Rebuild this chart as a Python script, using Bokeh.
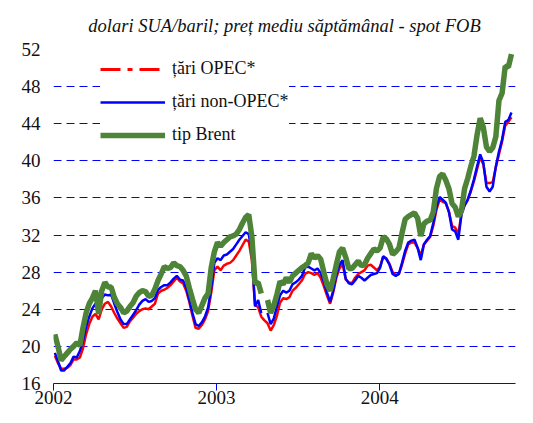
import numpy as np
import pandas as pd
from bokeh.plotting import figure
from bokeh.models import FixedTicker, DatetimeTickFormatter, Legend, LegendItem, Range1d
from bokeh.embed import file_html
from bokeh.resources import INLINE

nan = float("nan")

# weekly dates (Fridays)
week_start = "2002-01-04"
n_weeks = 147

brent = [21.3, 20.0, 18.5, 18.9, 19.3, 19.7, 20.0, 20.4, 20.1, 22.0,
         23.6, 24.6, 25.2, 26.0, 23.5, 26.0, 26.9, 26.4, 26.4, 25.3,
         24.6, 24.2, 23.6, 23.8, 24.3, 24.7, 25.4, 25.8, 26.0, 25.9,
         25.4, 25.5, 26.2, 27.1, 27.8, 28.6, 28.4, 28.5, 29.0, 28.7,
         28.6, 28.2, 27.6, 26.3, 25.1, 24.0, 23.6, 24.4, 25.2, 25.7,
         28.5, 30.2, 31.2, 30.8, 31.2, 31.5, 31.8, 31.9, 32.1, 32.6,
         33.3, 33.9, 34.2, 31.8, 26.8, 26.9, 25.7, nan, 25.0, 23.6,
         24.4, 25.6, 27.0, 26.7, 27.4, 26.9, 27.6, 27.9, 28.2, 28.5,
         28.7, 29.0, 30.0, 29.5, 29.8, 29.4, 28.0, 26.7, 26.0, 27.3,
         28.8, 30.2, 30.6, 29.6, 28.4, 28.4, 28.8, 29.2, 28.7, 28.8,
         29.5, 30.0, 30.5, 30.3, 30.6, 31.8, 31.6, 31.0, 29.9, 30.2,
         30.6, 32.2, 33.7, 34.0, 34.2, 34.4, 33.8, 31.9, 33.2, 33.5,
         33.6, 34.5, 37.0, 38.3, 38.6, 37.9, 37.0, 35.4, 35.0, 34.0,
         34.6, 37.0, 38.1, 39.4, 40.5, 42.8, 44.6, 43.6, 41.5, 41.0,
         41.4, 42.6, 46.5, 47.3, 50.2, 50.1, 51.5]

non_opec = [19.3, 18.4, 17.4, 17.4, 17.8, 18.2, 18.9, 18.8, 19.5, 20.6,
            22.1, 23.2, 24.1, 24.6, 24.0, 25.2, 25.6, 25.5, 25.6, 24.6,
            23.7, 22.9, 22.4, 22.4, 22.9, 23.4, 23.9, 24.5, 24.9, 25.1,
            24.8, 24.9, 25.2, 26.1, 26.4, 26.6, 26.6, 26.9, 27.3, 27.6,
            27.2, 27.1, 26.3, 25.0, 23.6, 22.4, 22.2, 22.6, 23.2, 24.2,
            26.3, 29.0, 29.5, 29.3, 29.8, 29.9, 30.2, 30.5, 31.0, 31.5,
            31.9, 32.3, 32.1, 30.0, 24.3, 25.0, 23.6, nan, 23.6, 22.4,
            23.0, 24.3, 25.5, 26.0, 25.8, 26.0, 26.7, 26.9, 27.2, 27.6,
            28.5, 28.6, 28.4, 28.2, 28.4, 27.9, 27.0, 25.8, 24.8, 26.0,
            27.7, 28.8, 29.3, 27.3, 26.8, 26.7, 27.1, 27.6, 27.4, 27.1,
            27.4, 27.7, 27.8, 27.9, 28.5, 29.7, 29.4, 28.8, 27.8, 27.6,
            27.8, 29.0, 30.3, 31.2, 31.4, 31.5, 30.6, 29.3, 31.0, 31.5,
            31.9, 33.3, 35.0, 36.1, 35.8, 35.5, 34.5, 32.6, 32.4, 31.5,
            34.2, 35.2, 35.8, 36.8, 38.0, 39.4, 40.7, 39.8, 37.2, 36.7,
            37.2, 39.4, 41.0, 42.3, 44.2, 44.4, 45.2]

opec = [19.0, 18.2, 17.6, 17.6, 17.7, 18.0, 18.6, 18.6, 18.8, 19.8,
        21.3, 22.4, 23.2, 23.5, 22.9, 24.0, 24.6, 24.8, 24.3, 23.6,
        23.0, 22.5, 22.0, 22.1, 22.7, 23.1, 23.5, 23.8, 24.0, 24.1,
        24.0, 24.3, 24.6, 25.7, 26.0, 26.1, 26.3, 26.6, 27.0, 27.4,
        27.0, 26.8, 26.0, 24.8, 23.3, 22.0, 21.9, 22.3, 22.9, 23.8,
        25.8, 28.2, 28.6, 28.2, 28.7, 28.9, 29.0, 29.3, 29.8, 30.3,
        30.9, 31.5, 31.3, 29.3, 24.5, 24.2, 23.2, 22.8, 22.5, 21.7,
        22.3, 23.3, 24.7, 25.2, 25.1, 25.3, 26.0, 26.3, 26.7, 27.1,
        27.8, 28.0, 27.9, 27.7, 27.9, 27.4, 26.5, 25.5, 24.6, 25.8,
        27.4, 28.4, 28.9, 27.2, 26.9, 26.8, 27.4, 27.8, 28.0, 28.2,
        28.7, 28.8, 28.5, 28.2, 28.6, 29.7, 29.5, 28.9, 28.0, 27.7,
        27.8, 28.8, 30.0, 31.0, 31.2, 31.2, 30.6, 29.8, 31.0, 31.4,
        31.8, 33.0, 34.7, 35.8, 35.6, 35.4, 34.5, 33.0, 32.8, 32.1,
        34.3, 35.2, 35.8, 36.7, 37.8, 39.1, 40.4, 39.6, 37.6, 37.6,
        37.7, 39.3, 40.7, 42.1, 43.8, 44.2, 44.7]

y_ticks = [16, 20, 24, 28, 32, 36, 40, 44, 48, 52]
x_tick_years = ["2002-01-01", "2003-01-01", "2004-01-01"]
labels = ["țări OPEC*", "țări non-OPEC*", "tip Brent"]
title_text = "dolari SUA/baril; preț mediu săptămânal - spot FOB"

dates = pd.date_range(week_start, periods=n_weeks, freq="7D")

FONT = "Liberation Serif"

p = figure(width=517, height=407, x_axis_type="datetime",
           output_backend="svg", toolbar_location=None,
           x_range=Range1d(pd.Timestamp("2002-01-01"), pd.Timestamp("2004-10-31")),
           y_range=Range1d(16, 52),
           min_border_left=53, min_border_right=2,
           min_border_top=45, min_border_bottom=24)

p.title.text = title_text
p.title.text_font = FONT
p.title.text_font_style = "italic"
p.title.text_font_size = "18.5px"
p.title.text_color = "#111111"
p.title.align = "center"
p.title.standoff = 27

p.outline_line_color = None
p.background_fill_color = "white"

r_opec = p.line(dates, opec, line_color="#FF0000", line_width=2.5)
r_non = p.line(dates, non_opec, line_color="#0000FF", line_width=2.5)
r_brent = p.line(dates, brent, line_color="#4E8438", line_width=5.5)
# legend-only glyph for the dash-dot key
r_opec_key = p.line([pd.Timestamp("2003-01-01")], [nan], line_color="#FF0000",
                    line_width=3, line_dash="20 7 5 7")

# axes
p.yaxis.ticker = FixedTicker(ticks=y_ticks)
p.yaxis.axis_line_color = None
p.yaxis.major_tick_line_color = None
p.yaxis.minor_tick_line_color = None
p.yaxis.major_label_text_font = FONT
p.yaxis.major_label_text_font_size = "19px"
p.yaxis.major_label_text_color = "#111111"
p.yaxis.major_label_standoff = 7

p.xaxis.ticker = FixedTicker(ticks=[pd.Timestamp(d).value // 10**6 for d in x_tick_years])
p.xaxis.formatter = DatetimeTickFormatter(years="%Y", months="%Y", days="%Y")
p.xaxis.axis_line_color = "#0000FF"
p.xaxis.axis_line_width = 1.2
p.xaxis.major_tick_line_color = "#0000FF"
p.xaxis.major_tick_in = 0
p.xaxis.major_tick_out = 7
p.xaxis.minor_tick_line_color = None
p.xaxis.major_label_text_font = FONT
p.xaxis.major_label_text_font_size = "19px"
p.xaxis.major_label_text_color = "#111111"
p.xaxis.major_label_standoff = 0

p.xgrid.grid_line_color = None
p.ygrid.ticker = FixedTicker(ticks=y_ticks)
p.ygrid.grid_line_color = "#0000FF"
p.ygrid.grid_line_width = 1
p.ygrid.grid_line_dash = "8 5"

legend = Legend(items=[LegendItem(label=labels[0], renderers=[r_opec_key]),
                       LegendItem(label=labels[1], renderers=[r_non]),
                       LegendItem(label=labels[2], renderers=[r_brent])],
                location=(47, 238))
legend.border_line_color = None
legend.background_fill_color = "white"
legend.background_fill_alpha = 1.0
legend.padding = 13
legend.spacing = 12
legend.glyph_width = 65
legend.glyph_height = 20
legend.label_height = 20
legend.label_standoff = 7
legend.label_text_font = FONT
legend.label_text_font_size = "18px"
legend.label_text_color = "#111111"
p.add_layout(legend)

open("out.html", "w").write(file_html(p, INLINE))
